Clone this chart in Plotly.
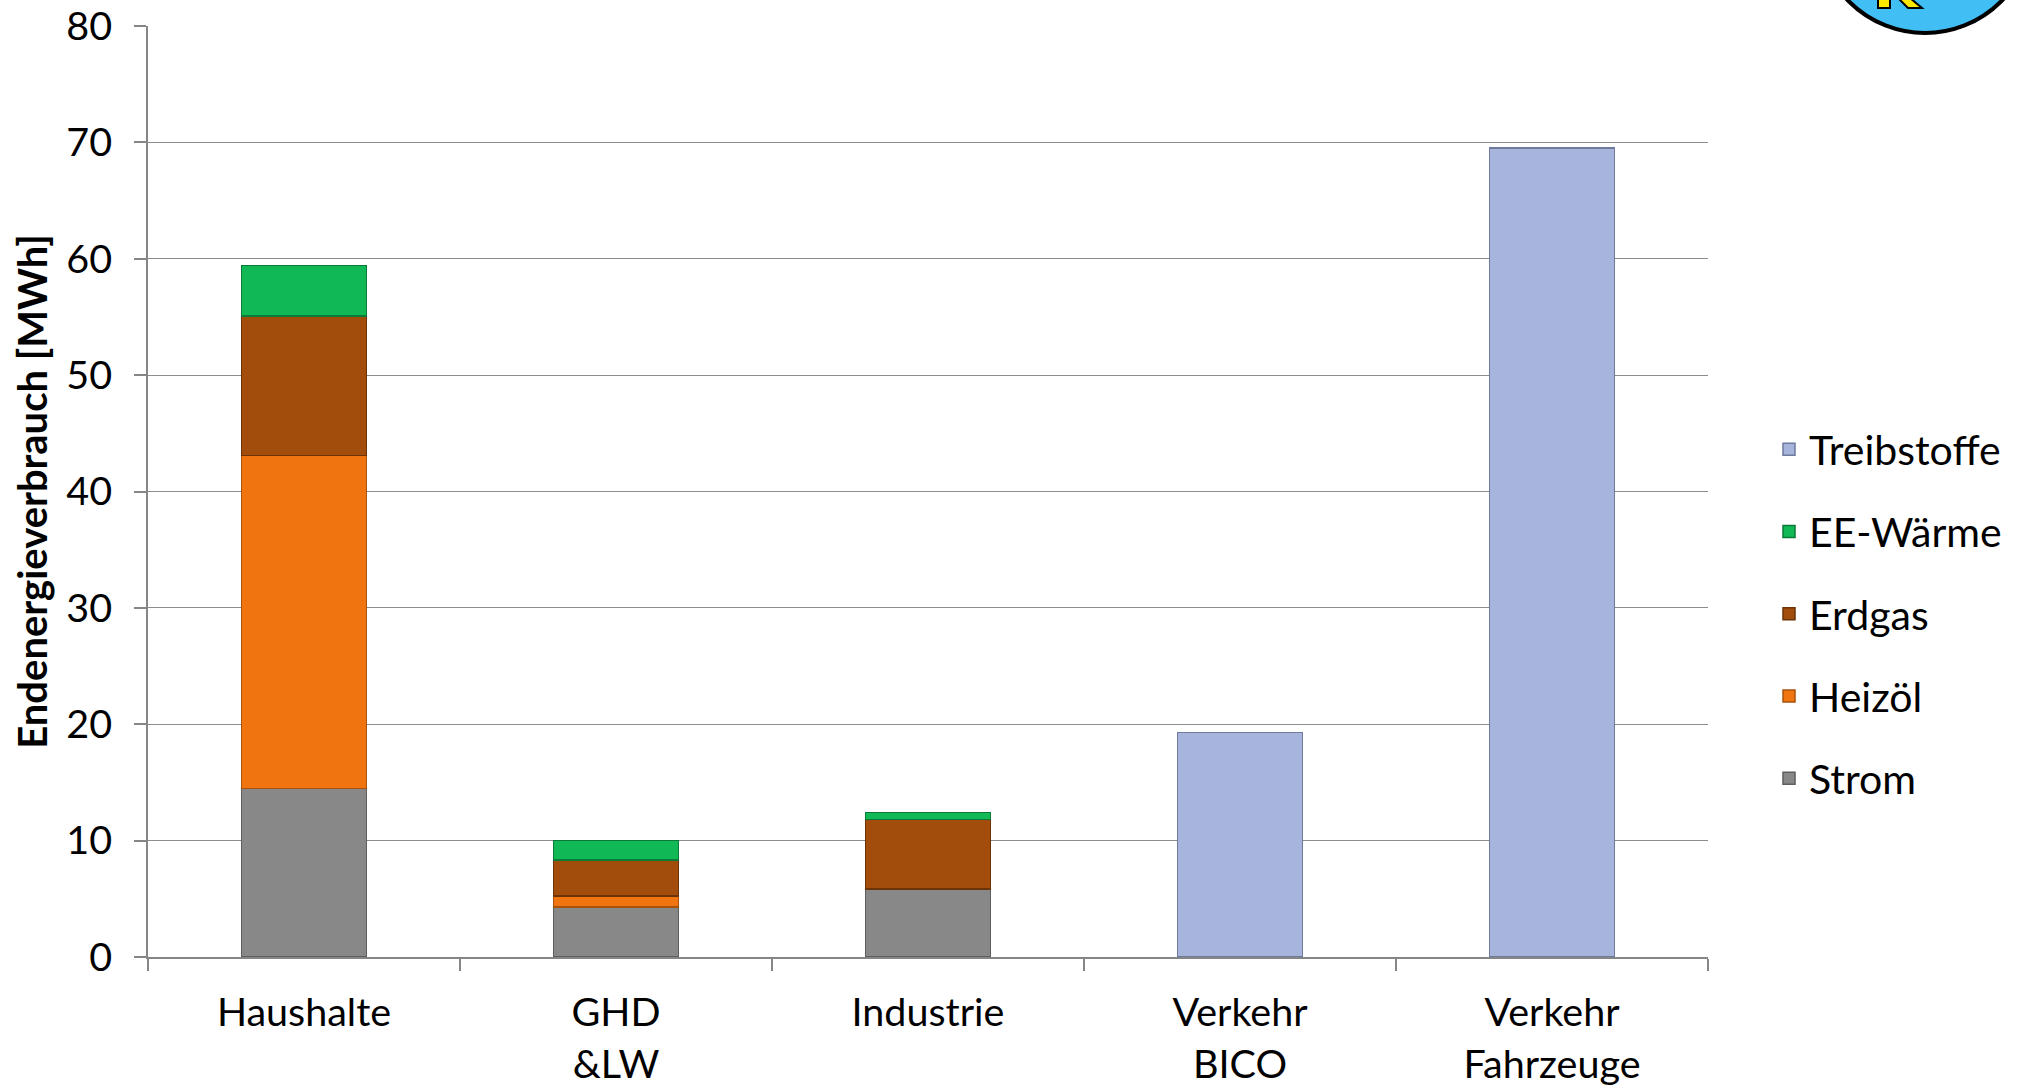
import plotly.graph_objects as go

categories = ["Haushalte", "GHD<br>&LW", "Industrie", "Verkehr<br>BICO", "Verkehr<br>Fahrzeuge"]
strom = [14.5, 4.3, 5.85, None, None]
heizoel = [28.6, 0.95, None, None, None]
erdgas = [12.0, 3.1, 5.95, None, None]
ee_waerme = [4.3, 1.65, 0.6, None, None]
treibstoffe = [None, None, None, 19.3, 69.5]

series = [
    ("Strom", strom, "#888888", "#5e5e5e"),
    ("Heizöl", heizoel, "#F07511", "#a8520c"),
    ("Erdgas", erdgas, "#A24D0B", "#6b3307"),
    ("EE-Wärme", ee_waerme, "#10B955", "#0a7a38"),
    ("Treibstoffe", treibstoffe, "#A7B4DB", "#6f7a9c"),
]

FONT = "Lato"
W, H = 2022, 1089
L, R, T, B = 148, 314, 26, 132
PW, PH = W - L - R, H - T - B


def px(x):
    return (x - L) / PW


def py(y):
    return (H - B - y) / PH


fig = go.Figure()
n = len(series)
for i, (name, vals, col, edge) in enumerate(series):
    fig.add_trace(go.Bar(
        x=categories, y=vals, name=name,
        marker=dict(color=col, line=dict(color=edge, width=1.5)),
        legendgroup=name, legendrank=n - i,
    ))

fig.update_layout(
    barmode="stack",
    bargap=0.6,
    width=W, height=H,
    margin=dict(l=L, r=R, t=T, b=B, autoexpand=False),
    paper_bgcolor="white", plot_bgcolor="white",
    font=dict(family=FONT, size=39.5, color="black"),
    legend=dict(
        x=px(1769), xanchor="left", y=py(614), yanchor="middle",
        traceorder="grouped", tracegroupgap=26,
        font=dict(family=FONT, size=41, color="black"),
        itemwidth=30,
    ),
    showlegend=True,
)
fig.update_yaxes(
    range=[0, 80], dtick=10,
    showgrid=True, gridcolor="#8c8c8c", gridwidth=1.3,
    showline=True, linecolor="#868686", linewidth=2,
    ticks="outside", ticklen=12, tickcolor="#868686", tickwidth=2,
    tickfont=dict(family=FONT, size=39.5, color="black"),
    ticklabelstandoff=14,
    zeroline=False,
    title=dict(text="<b>Endenergieverbrauch [MWh]</b>", standoff=6,
               font=dict(family=FONT, size=40, color="black")),
)
fig.update_xaxes(
    showline=True, linecolor="#868686", linewidth=2,
    ticks="outside", ticklen=12, tickcolor="#868686", tickwidth=2,
    tickson="boundaries",
    tickfont=dict(family=FONT, size=39.5, color="black"),
    ticklabelstandoff=20,
    showgrid=False,
)

# partial logo in the top-right corner (decorative)
cx, cy, r = 1925, -74.5, 107.5
fig.add_shape(type="circle", xref="paper", yref="paper",
              x0=px(cx - r), x1=px(cx + r), y0=py(cy + r), y1=py(cy - r),
              fillcolor="#41BFF5", line=dict(color="black", width=4), layer="above")
stem = [(1878, -2), (1890, -2), (1890, 8), (1878, 8)]
leg = [(1898, -2), (1910, -2), (1922, 8), (1908, 8)]
for poly in (stem, leg):
    path = "M " + " L ".join(f"{px(x)},{py(y)}" for x, y in poly) + " Z"
    fig.add_shape(type="path", xref="paper", yref="paper", path=path,
                  fillcolor="#FFE800", line=dict(color="black", width=2), layer="above")

fig.write_html("out.html", config={"displayModeBar": False},
               post_script="document.body.style.margin='0';")
